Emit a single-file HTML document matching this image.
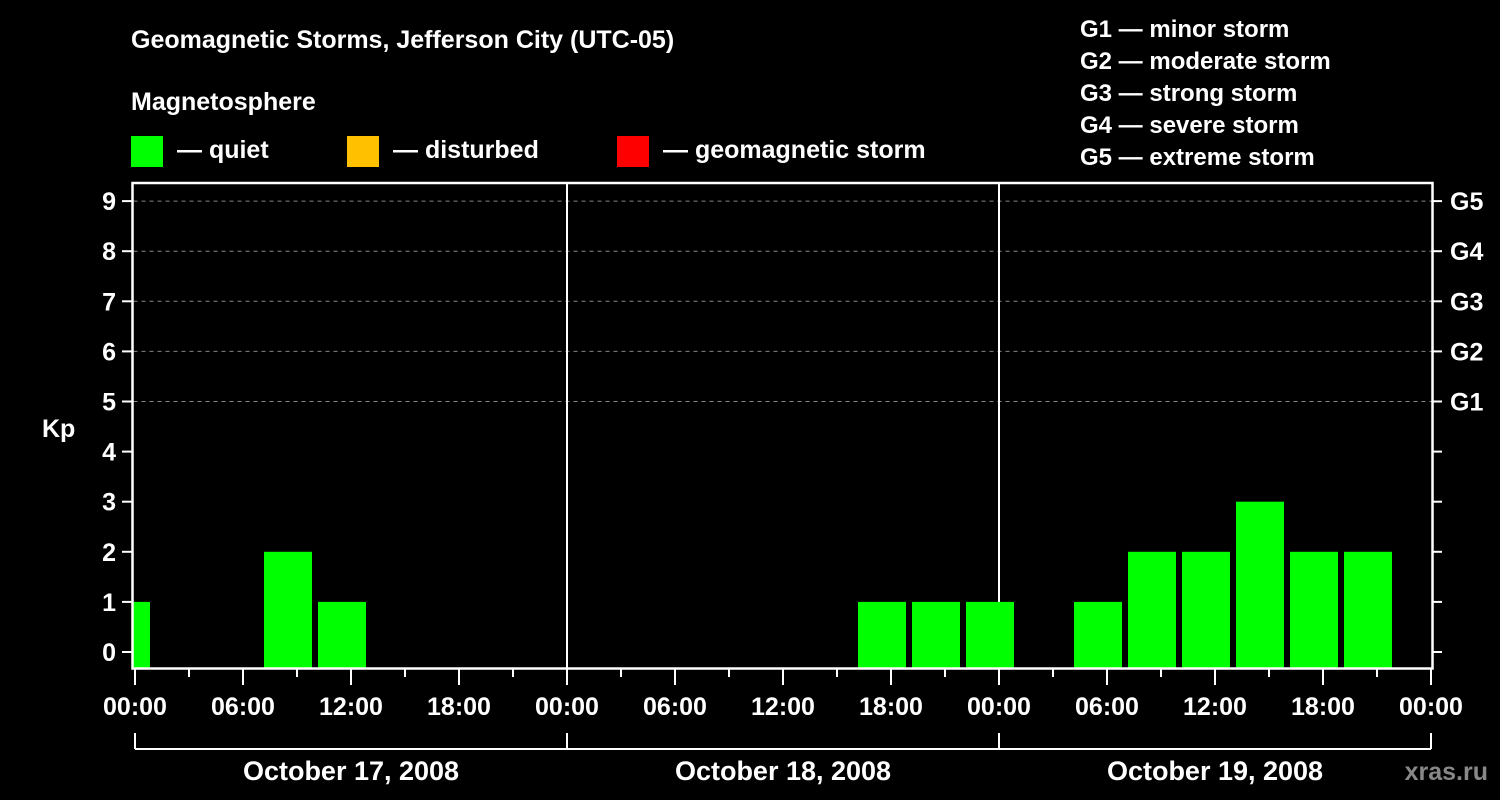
<!DOCTYPE html>
<html><head><meta charset="utf-8"><style>
html,body{margin:0;padding:0;background:#000;}
svg{display:block;font-family:"Liberation Sans",Arial,sans-serif;font-weight:bold;}
</style></head><body>
<svg id="chart" width="1500" height="800" viewBox="0 0 1500 800">
<g fill="#fff" font-size="25">
<text x="131" y="48">Geomagnetic Storms, Jefferson City (UTC-05)</text>
<text x="131" y="110">Magnetosphere</text>
</g>
<g font-size="25" fill="#fff">
<rect x="131" y="136" width="32" height="31" fill="#00ff00"/>
<text x="177" y="158">— quiet</text>
<rect x="347" y="136" width="32" height="31" fill="#ffc000"/>
<text x="393" y="158">— disturbed</text>
<rect x="617" y="136" width="32" height="31" fill="#ff0000"/>
<text x="663" y="158">— geomagnetic storm</text>
</g>
<g font-size="24" fill="#fff">
<text x="1080" y="37">G1 — minor storm</text>
<text x="1080" y="69">G2 — moderate storm</text>
<text x="1080" y="101">G3 — strong storm</text>
<text x="1080" y="133">G4 — severe storm</text>
<text x="1080" y="165">G5 — extreme storm</text>
</g>
<text x="42" y="437" fill="#fff" font-size="25">Kp</text>
<text x="1488" y="780" fill="#888" font-size="25" text-anchor="end">xras.ru</text>
<g id="grid"></g><g id="bars"></g><g id="axes"></g>
</svg>
<script>
const dates = ["October 17, 2008","October 18, 2008","October 19, 2008"];
const slotStartHour = -2; // first 3-hour slot start (hours from Oct 17 00:00 local)
const kpValues = [1,null,null,2,1,null,null,null,null,null,null,null,null,null,1,1,1,null,1,2,2,3,2,2];
const yTicks = [0,1,2,3,4,5,6,7,8,9];
const gLabels = ["G1","G2","G3","G4","G5"];
const gLevels = [5,6,7,8,9];
const xLabels = ["00:00","06:00","12:00","18:00"];

const NS="http://www.w3.org/2000/svg";
const X0=133.5, X1=1431.5, YT=183, YB=668.5;
const hx = h => 135 + h*18;
const ky = v => 652 - v*50.1;
function mk(t,a,p){const e=document.createElementNS(NS,t);for(const k in a)e.setAttribute(k,a[k]);p.appendChild(e);return e;}
const grid=document.getElementById('grid'), bars=document.getElementById('bars'), axes=document.getElementById('axes');

// clip
const defs=mk('defs',{},grid);
const cp=mk('clipPath',{id:'pc'},defs);mk('rect',{x:X0,y:YT,width:X1-X0,height:YB-YT},cp);

gLevels.forEach(v=>{
 const l=mk('line',{x1:X0,x2:X1,y1:ky(v),y2:ky(v),stroke:'#888','stroke-dasharray':'4,4'},grid);
 
 
});
for(let d=1;d<dates.length;d++){
 const l=mk('line',{x1:hx(24*d),x2:hx(24*d),y1:YT,y2:YB,stroke:'#fff','stroke-width':2},grid);
 
 
}
const bg=mk('g',{'clip-path':'url(#pc)'},bars);
kpValues.forEach((v,i)=>{
 if(v===null)return;
 const s=slotStartHour+i*3;
 const x=hx(s)+3, w=54-6;
 const r=mk('rect',{x:x,y:ky(v),width:w,height:YB-1-ky(v),fill:v>=5?'#ff0000':(v>=4?'#ffc000':'#00ff00')},bg);
 
 
});
// frame
const fr=mk('rect',{x:X0-1,y:YT,width:X1-X0+2,height:YB-YT,fill:'none',stroke:'#fff','stroke-width':2.5},axes);


yTicks.forEach(v=>{
 mk('line',{x1:122,x2:X0,y1:ky(v),y2:ky(v),stroke:'#fff','stroke-width':2},axes);
 mk('line',{x1:X1,x2:1442,y1:ky(v),y2:ky(v),stroke:'#fff','stroke-width':2},axes);
 const t=mk('text',{x:116,y:ky(v)+9,'text-anchor':'end',fill:'#fff','font-size':25},axes);
 t.textContent=v;
 
 
});
gLevels.forEach((v,i)=>{
 const t=mk('text',{x:1450,y:ky(v)+9,fill:'#fff','font-size':25},axes);
 t.textContent=gLabels[i];
 
 
});
const totalH=24*dates.length;
for(let h=0;h<=totalH;h+=3){
 const major=h%6===0;
 mk('line',{x1:hx(h),x2:hx(h),y1:YB,y2:major?685:677,stroke:'#fff','stroke-width':2},axes);
 if(major){
  const t=mk('text',{x:hx(h),y:715,'text-anchor':'middle',fill:'#fff','font-size':25},axes);
  t.textContent=xLabels[(h/6)%4];
  
  
 }
}
mk('line',{x1:hx(0),x2:hx(totalH),y1:749,y2:749,stroke:'#fff','stroke-width':2},axes);
for(let d=0;d<=dates.length;d++)mk('line',{x1:hx(24*d),x2:hx(24*d),y1:733,y2:749,stroke:'#fff','stroke-width':2},axes);
dates.forEach((s,d)=>{
 const t=mk('text',{x:hx(24*d+12),y:780,'text-anchor':'middle',fill:'#fff','font-size':27},axes);
 t.textContent=s;
 
 
});
</script>
</body></html>
